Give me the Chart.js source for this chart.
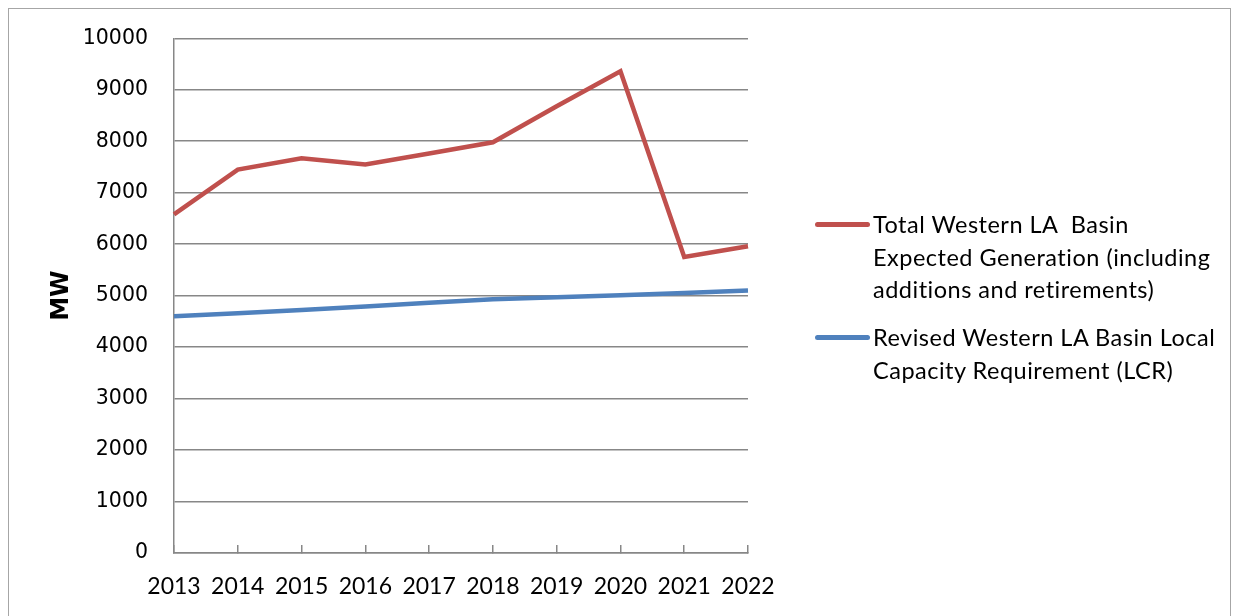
<!DOCTYPE html>
<html>
<head>
<meta charset="utf-8">
<script src="https://cdn.jsdelivr.net/npm/chart.js@4.4.1/dist/chart.umd.min.js"></script>
<style>
  body { margin: 0; background: #fff; }
  #wrap { position: relative; width: 1233px; height: 616px; overflow: hidden; }
  #frame { position: absolute; left: 8px; top: 8px; width: 1221px; height: 700px; border: 1px solid #a6a6a6; }
  canvas { position: absolute; left: 0; top: 0; }
  .leg { position: absolute; left: 815px; font-family: Lato, sans-serif; font-size: 23.5px; letter-spacing: 0.5px; line-height: 32.5px; color: #000; }
  .leg .sw { position: absolute; left: 0; top: 14px; width: 55px; height: 5px; border-radius: 3px; }
  .leg .tx { position: absolute; left: 58px; top: 0; white-space: nowrap; }
</style>
</head>
<body>
<div id="wrap">
  <div id="frame"></div>
  <canvas id="grafico" width="1233" height="616"></canvas>
  <div id="legenda"></div>
</div>
<script>
// anos
const anos = ['2013', '2014', '2015', '2016', '2017', '2018', '2019', '2020', '2021', '2022'];

// MW
const geracaoEsperada = [6580, 7450, 7670, 7550, 7760, 7980, 8680, 9360, 5750, 5960];
const requisitoLCR = [4600, 4660, 4720, 4790, 4860, 4930, 4970, 5010, 5050, 5100];

const nomesSeries = [
  'Total Western LA  Basin Expected Generation (including additions and retirements)',
  'Revised Western LA Basin Local Capacity Requirement (LCR)'
];
// quebra de linha igual ao original
const linhasLegenda = [
  ['Total Western LA\u00a0\u00a0Basin', 'Expected Generation (including', 'additions and retirements)'],
  ['Revised Western LA Basin Local', 'Capacity Requirement (LCR)']
];
const coresSeries = ['#C0504D', '#4F81BD'];

const cinza = '#878787';

new Chart(document.getElementById('grafico'), {
  type: 'line',
  data: {
    labels: anos,
    datasets: [
      {
        label: nomesSeries[0],
        data: geracaoEsperada,
        borderColor: coresSeries[0],
        borderWidth: 4.5,
        pointRadius: 0,
        tension: 0
      },
      {
        label: nomesSeries[1],
        data: requisitoLCR,
        borderColor: coresSeries[1],
        borderWidth: 4.5,
        pointRadius: 0,
        tension: 0
      }
    ]
  },
  options: {
    responsive: false,
    animation: false,
    layout: { padding: { left: 0, top: 38, right: 485, bottom: 0 } },
    plugins: {
      legend: { display: false },
      tooltip: { enabled: false }
    },
    scales: {
      x: {
        offset: false,
        grid: {
          drawOnChartArea: false,
          drawTicks: true,
          tickLength: -8,
          color: cinza,
          lineWidth: 1.5
        },
        border: { color: cinza, width: 1.5 },
        ticks: {
          padding: 28,
          maxRotation: 0,
          autoSkip: false,
          color: '#000',
          font: { family: 'Lato', size: 23 }
        },
        afterFit: s => { s.height = 63; }
      },
      y: {
        min: 0,
        max: 10000,
        ticks: {
          stepSize: 1000,
          padding: 26,
          color: '#000',
          font: { family: 'DejaVu Sans', size: 20.5 },
          callback: v => String(v)
        },
        grid: { drawTicks: false, color: cinza, lineWidth: 1.5 },
        border: { color: cinza, width: 1.5 },
        title: {
          display: true,
          text: 'MW',
          color: '#000',
          font: { family: 'DejaVu Sans', size: 24, weight: 'bold' },
          padding: { top: 47, bottom: 0 }
        },
        afterFit: s => { s.width = 174; }
      }
    }
  }
});

// legenda em HTML
const legenda = document.getElementById('legenda');
const topos = [208, 321];
linhasLegenda.forEach((linhas, i) => {
  const item = document.createElement('div');
  item.className = 'leg';
  item.style.top = topos[i] + 'px';
  const sw = document.createElement('div');
  sw.className = 'sw';
  sw.style.background = coresSeries[i];
  const tx = document.createElement('div');
  tx.className = 'tx';
  tx.innerHTML = linhas.join('<br>');
  item.appendChild(sw);
  item.appendChild(tx);
  legenda.appendChild(item);
});
</script>
</body>
</html>
